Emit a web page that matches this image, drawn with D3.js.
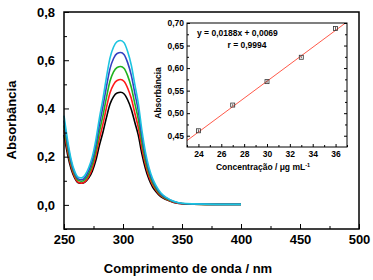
<!DOCTYPE html>
<html>
<head>
<meta charset="utf-8">
<script src="https://cdn.jsdelivr.net/npm/d3@7"></script>
<style>
  body { margin: 0; background: #fff; }
  svg { display: block; font-family: Arial, "Liberation Sans", sans-serif; font-weight: bold; }
</style>
</head>
<body>
<div id="chart"></div>
<script>
// Wavelength grid (nm) shared by all spectra
const wavelengths = [250,253,256,259,262,265,268,271,274,277,280,283,286,289,292,295,298,301,304,307,310,313,316,319,322,325,328,332,337,343,350,360,380,400];

// Absorbance spectra, lowest to highest concentration
const absBlack = [0.29,0.21,0.15,0.112,0.092,0.09,0.096,0.112,0.14,0.185,0.247,0.301,0.363,0.418,0.449,0.464,0.467,0.46,0.435,0.397,0.343,0.288,0.212,0.151,0.106,0.075,0.055,0.034,0.021,0.01,0.005,0.003,0.002,0.002];
const absRed   = [0.31,0.225,0.16,0.117,0.094,0.09,0.097,0.118,0.152,0.206,0.274,0.335,0.404,0.465,0.499,0.516,0.52,0.512,0.484,0.442,0.381,0.32,0.236,0.168,0.118,0.084,0.061,0.038,0.023,0.011,0.005,0.003,0.002,0.002];
const absGreen = [0.33,0.24,0.17,0.126,0.102,0.098,0.106,0.13,0.168,0.227,0.303,0.37,0.446,0.514,0.552,0.57,0.574,0.566,0.535,0.488,0.421,0.354,0.261,0.185,0.131,0.093,0.067,0.042,0.025,0.013,0.006,0.003,0.002,0.002];
const absBlue  = [0.35,0.255,0.18,0.133,0.108,0.104,0.115,0.143,0.185,0.25,0.333,0.408,0.491,0.565,0.607,0.628,0.632,0.623,0.589,0.538,0.464,0.389,0.287,0.204,0.144,0.102,0.074,0.046,0.028,0.014,0.006,0.004,0.002,0.002];
const absCyan  = [0.37,0.27,0.19,0.14,0.115,0.112,0.125,0.155,0.20,0.27,0.36,0.44,0.53,0.61,0.655,0.677,0.682,0.672,0.635,0.58,0.50,0.42,0.31,0.22,0.155,0.11,0.08,0.05,0.03,0.015,0.007,0.004,0.002,0.002];
const seriesColors = ["#000000", "#ff1a1a", "#1fb31f", "#3340c0", "#1cc4e0"];

// Calibration curve (inset)
const concentrations = [24, 27, 30, 33, 36];
const calAbs = [0.461, 0.518, 0.570, 0.624, 0.688];
const calErr = [0.003, 0.002, 0.003, 0.002, 0.004];
const fitSlope = 0.0188, fitIntercept = 0.0069;
const equationText = "y = 0,0188x + 0,0069";
const rText = "r = 0,9994";

// Tick values
const mainXTicks = [250, 300, 350, 400, 450, 500];
const mainYTicks = [0.0, 0.2, 0.4, 0.6, 0.8];
const insetXTicks = [24, 26, 28, 30, 32, 34, 36];
const insetYTicks = [0.45, 0.50, 0.55, 0.60, 0.65, 0.70];

const W = 373, H = 280;
const comma = d => d.replace(".", ",");

const svg = d3.select("#chart").append("svg").attr("width", W).attr("height", H);

// ---- main plot ----
const x = d3.scaleLinear().domain([250, 500]).range([64, 359]);
const y = d3.scaleLinear().domain([-0.1, 0.8]).range([229, 12]);

const spectra = [absBlack, absRed, absGreen, absBlue, absCyan];
const line = d3.line()
    .x((d, i) => x(wavelengths[i]))
    .y(d => y(d))
    .curve(d3.curveMonotoneX);

svg.append("g").selectAll("path")
    .data(spectra)
    .join("path")
    .attr("d", line)
    .attr("fill", "none")
    .attr("stroke", (d, i) => seriesColors[i])
    .attr("stroke-width", 1.6);

const xAxis = svg.append("g")
    .attr("transform", "translate(0,229)")
    .call(d3.axisBottom(x).tickValues(mainXTicks).tickSize(-5).tickPadding(6).tickFormat(d3.format("d")));
svg.append("g")
    .attr("transform", "translate(0,229)")
    .call(d3.axisBottom(x).tickValues(d3.range(275, 500, 50)).tickSize(-3).tickFormat(""));
const yAxis = svg.append("g")
    .attr("transform", "translate(64,0)")
    .call(d3.axisLeft(y).tickValues(mainYTicks).tickSize(-5).tickPadding(9).tickFormat(d => comma(d3.format(".1f")(d))));
svg.append("g")
    .attr("transform", "translate(64,0)")
    .call(d3.axisLeft(y).tickValues([-0.1, 0.1, 0.3, 0.5, 0.7]).tickSize(-3).tickFormat(""));

svg.selectAll(".domain").remove();
svg.selectAll(".tick line").attr("stroke", "#000").attr("stroke-width", 1);
xAxis.selectAll("text").attr("font-size", 13).attr("font-family", null).attr("fill", "#000");
yAxis.selectAll("text").attr("font-size", 13).attr("font-family", null).attr("fill", "#000");

svg.append("rect")
    .attr("x", 64).attr("y", 12).attr("width", 295).attr("height", 217)
    .attr("fill", "none").attr("stroke", "#000").attr("stroke-width", 1.5);

svg.append("text")
    .attr("x", 188).attr("y", 273)
    .attr("text-anchor", "middle").attr("font-size", 13)
    .text("Comprimento de onda / nm");

svg.append("text")
    .attr("transform", "translate(16,120) rotate(-90)")
    .attr("text-anchor", "middle").attr("font-size", 13)
    .text("Absorbância");

// ---- inset ----
const xi = d3.scaleLinear().domain([23, 37]).range([187, 347]);
const yi = d3.scaleLinear().domain([0.425, 0.70]).range([147, 23]);

svg.append("rect")
    .attr("x", 187).attr("y", 23).attr("width", 160).attr("height", 124)
    .attr("fill", "#fff");

svg.append("defs").append("clipPath").attr("id", "insetClip")
    .append("rect").attr("x", 187).attr("y", 23).attr("width", 160).attr("height", 124);

svg.append("line")
    .attr("clip-path", "url(#insetClip)")
    .attr("x1", xi(23)).attr("y1", yi(fitSlope * 23 + fitIntercept))
    .attr("x2", xi(37)).attr("y2", yi(fitSlope * 37 + fitIntercept))
    .attr("stroke", "#ff5a4a").attr("stroke-width", 1);

const pts = svg.append("g").selectAll("g")
    .data(concentrations)
    .join("g");
pts.append("line")
    .attr("x1", d => xi(d)).attr("x2", d => xi(d))
    .attr("y1", (d, i) => yi(calAbs[i] + calErr[i]))
    .attr("y2", (d, i) => yi(calAbs[i] - calErr[i]))
    .attr("stroke", "#333").attr("stroke-width", 0.8);
pts.append("rect")
    .attr("x", d => xi(d) - 2).attr("y", (d, i) => yi(calAbs[i]) - 2)
    .attr("width", 4).attr("height", 4)
    .attr("fill", "none").attr("stroke", "#333").attr("stroke-width", 0.8);

const xiAxis = svg.append("g")
    .attr("transform", "translate(0,147)")
    .call(d3.axisBottom(xi).tickValues(insetXTicks).tickSize(-3).tickPadding(4).tickFormat(d3.format("d")));
svg.append("g")
    .attr("transform", "translate(0,147)")
    .call(d3.axisBottom(xi).tickValues(d3.range(23, 38, 2)).tickSize(-2).tickFormat(""));
const yiAxis = svg.append("g")
    .attr("transform", "translate(187,0)")
    .call(d3.axisLeft(yi).tickValues(insetYTicks).tickSize(-3).tickPadding(3).tickFormat(d => comma(d3.format(".2f")(d))));
svg.append("g")
    .attr("transform", "translate(187,0)")
    .call(d3.axisLeft(yi).tickValues([0.475, 0.525, 0.575, 0.625, 0.675]).tickSize(-2).tickFormat(""));
svg.append("g")
    .attr("transform", "translate(347,0)")
    .call(d3.axisRight(yi).tickValues(insetYTicks).tickSize(-3).tickFormat(""));
svg.append("g")
    .attr("transform", "translate(347,0)")
    .call(d3.axisRight(yi).tickValues([0.475, 0.525, 0.575, 0.625, 0.675]).tickSize(-2).tickFormat(""));

svg.selectAll(".domain").remove();
svg.selectAll(".tick line").attr("stroke", "#000");
xiAxis.selectAll("text").attr("font-size", 8.5).attr("font-family", null).attr("fill", "#000");
yiAxis.selectAll("text").attr("font-size", 8.5).attr("font-family", null).attr("fill", "#000");

svg.append("rect")
    .attr("x", 187).attr("y", 23).attr("width", 160).attr("height", 124)
    .attr("fill", "none").attr("stroke", "#000").attr("stroke-width", 1);

svg.append("text")
    .attr("x", 197).attr("y", 36)
    .attr("font-size", 8.5)
    .text(equationText);
svg.append("text")
    .attr("x", 247).attr("y", 48)
    .attr("text-anchor", "middle").attr("font-size", 8.5)
    .text(rText);

const xiLabel = svg.append("text")
    .attr("x", 263).attr("y", 170)
    .attr("text-anchor", "middle").attr("font-size", 8.5);
xiLabel.append("tspan").text("Concentração / μg mL");
xiLabel.append("tspan").attr("dy", -3).attr("font-size", 5.5).text("-1");

svg.append("text")
    .attr("transform", "translate(161,93) rotate(-90)")
    .attr("text-anchor", "middle").attr("font-size", 8.5)
    .text("Absorbância");
</script>
</body>
</html>
